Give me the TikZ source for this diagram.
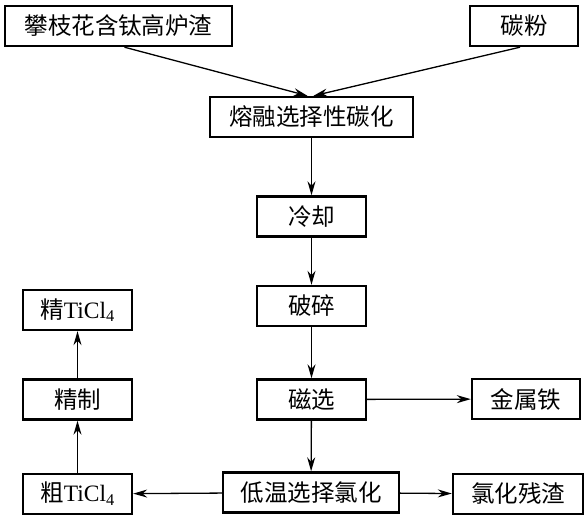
\documentclass[tikz,border=0pt]{standalone}
\usepackage{fontspec}
\setmainfont{Liberation Serif}
\newfontfamily\cjk{Noto Sans CJK SC}
\usetikzlibrary{arrows.meta,positioning}

\tikzset{
  stepbox/.style={draw,line width=2.4pt,minimum height=40pt,inner sep=0pt,
    font=\fontsize{23.5}{24}\selectfont\cjk},
  flow/.style={-{Stealth[length=14pt,width=8pt]},line width=1.3pt}
}

\begin{document}
\begin{tikzpicture}[x=1pt,y=-1pt]
    \useasboundingbox (0,0) rectangle (587,521);
    % raw materials
    \node[stepbox,minimum width=227pt] (slag) at (118.5,26) {攀枝花含钛高炉渣};
    \node[stepbox,minimum width=108pt] (carbon) at (524,26) {碳粉};
    % main line
    \node[stepbox,minimum width=203pt] (carb) at (311.5,117) {熔融选择性碳化};
    \node[stepbox,minimum width=109pt] (cool) at (311.5,216.5) {冷却};
    \node[stepbox,minimum width=109pt] (crush) at (311.5,306) {破碎};
    \node[stepbox,minimum width=109pt] (magsep) at (311.5,399.5) {磁选};
    \node[stepbox,minimum width=176pt] (chlor) at (311,492.5) {低温选择氯化};
    % side products
    \node[stepbox,minimum width=108pt] (iron) at (526,399) {金属铁};
    \node[stepbox,minimum width=130pt] (resid) at (518,494) {氯化残渣};
    \node[stepbox,minimum width=109pt] (crude) at (77.5,494) {粗\fontspec{Liberation Serif}TiCl\textsubscript{4}};
    \node[stepbox,minimum width=109pt] (refine) at (77.5,399.5) {精制};
    \node[stepbox,minimum width=109pt] (pure) at (77.5,310) {精\fontspec{Liberation Serif}TiCl\textsubscript{4}};

    \draw[flow] ([xshift=6pt]slag.south) -- ([xshift=-4pt]carb.north);
    \draw[flow] ([xshift=-4pt]carbon.south) -- ([xshift=2pt]carb.north);
    \draw[flow] (carb) -- (cool);
    \draw[flow] (cool) -- (crush);
    \draw[flow] (crush) -- (magsep);
    \draw[flow] (magsep) -- (chlor);
    \draw[flow] (magsep) -- (iron);
    \draw[flow] (chlor) -- (resid);
    \draw[flow] (chlor) -- (crude);
    \draw[flow] (crude) -- (refine);
    \draw[flow] (refine) -- (pure);
\end{tikzpicture}
\end{document}
